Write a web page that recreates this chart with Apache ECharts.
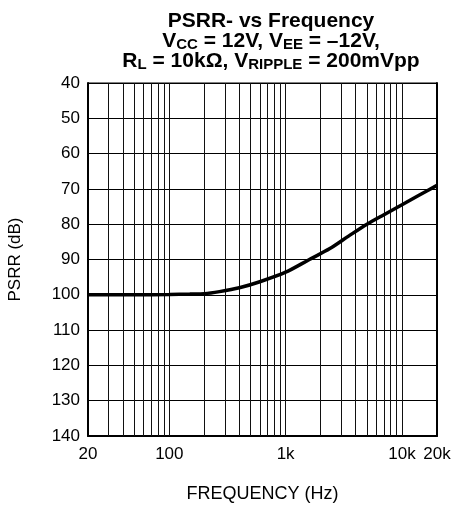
<!DOCTYPE html>
<html>
<head>
<meta charset="utf-8">
<script src="https://cdn.jsdelivr.net/npm/echarts@6/dist/echarts.min.js"></script>
<style>
  html, body { margin: 0; padding: 0; background: #fff; }
  #psrrChart { width: 469px; height: 506px; }
</style>
</head>
<body>
<div id="psrrChart"></div>
<script>
// PSRR- 对频率曲线
const freqs = [20, 50, 100, 150, 200, 270, 400, 600, 1000, 1600, 2400, 3500, 5000, 7000, 10000, 14000, 20000]
const psrr = [100, 100, 99.9, 99.8, 99.7, 99.1, 98, 96.3, 93.6, 90, 86.9, 83.3, 80, 77.3, 74.5, 71.8, 69]

// 竖向网格线位置
const gridFreqs = [30, 40, 50, 60, 70, 80, 90, 100,
  200, 300, 400, 500, 600, 700, 800, 900, 1000,
  2000, 3000, 4000, 5000, 6000, 7000, 8000, 9000, 10000]

const yTicks = [40, 50, 60, 70, 80, 90, 100, 110, 120, 130, 140]

const font = 'Liberation Sans, Arial, sans-serif'

var myChart = echarts.init(document.getElementById('psrrChart'))

myChart.setOption({
  animation: false,
  title: {
    text: '{t|PSRR- vs Frequency}\n{t|V}{s|CC}{t| = 12V, V}{s|EE}{t| = \u201312V,}\n{t|R}{s|L}{t| = 10k\u03a9, V}{s|RIPPLE}{t| = 200mVpp}',
    left: 266,
    top: 6,
    textAlign: 'center',
    textStyle: {
      fontFamily: font,
      rich: {
        t: { fontFamily: font, fontSize: 21, fontWeight: 'bold', color: '#000', lineHeight: 20 },
        s: { fontFamily: font, fontSize: 15, fontWeight: 'bold', color: '#000', lineHeight: 20, padding: [8, 0, 0, 0] }
      }
    }
  },
  grid: {
    left: 88,
    right: 32,
    top: 83,
    bottom: 70,
    containLabel: false,
    outerBoundsMode: 'none',
    show: true,
    borderColor: '#000',
    borderWidth: 1
  },
  xAxis: {
    type: 'log',
    logBase: 10,
    min: 20,
    max: 20000,
    name: 'FREQUENCY (Hz)',
    nameLocation: 'middle',
    nameGap: 49,
    nameTextStyle: { fontFamily: font, fontSize: 18, color: '#000' },
    axisLine: { show: true, lineStyle: { color: '#000', width: 2 } },
    axisTick: { show: false },
    splitLine: { show: false },
    axisLabel: {
      fontFamily: font,
      fontSize: 17,
      color: '#000',
      margin: 10,
      formatter: v => {
        const n = Math.round(v)
        return n >= 1000 ? (n / 1000) + 'k' : '' + n
      }
    }
  },
  yAxis: [
    {
      type: 'value',
      inverse: true,
      min: yTicks[0],
      max: yTicks[yTicks.length - 1],
      interval: 10,
      name: 'PSRR (dB)',
      nameLocation: 'middle',
      nameGap: 64,
      nameTextStyle: { fontFamily: font, fontSize: 17, color: '#000' },
      axisLine: { show: true, lineStyle: { color: '#000', width: 2 } },
      axisTick: { show: false },
      splitLine: { show: true, lineStyle: { color: '#000', width: 1 } },
      axisLabel: { fontFamily: font, fontSize: 17, color: '#000', margin: 8 }
    },
    {
      type: 'value',
      position: 'right',
      inverse: true,
      min: yTicks[0],
      max: yTicks[yTicks.length - 1],
      interval: 10,
      axisLine: { show: true, lineStyle: { color: '#000', width: 2 } },
      axisTick: { show: false },
      axisLabel: { show: false },
      splitLine: { show: false }
    }
  ],
  series: [
    {
      type: 'line',
      data: freqs.map((f, i) => [f, psrr[i]]),
      smooth: 0.3,
      symbol: 'none',
      lineStyle: { color: '#000', width: 3.5 },
      z: 5,
      markLine: {
        silent: true,
        symbol: 'none',
        label: { show: false },
        lineStyle: { color: '#111', type: 'solid', width: 1 },
        data: gridFreqs.map(f => ({ xAxis: f }))
      }
    }
  ]
})
</script>
</body>
</html>
